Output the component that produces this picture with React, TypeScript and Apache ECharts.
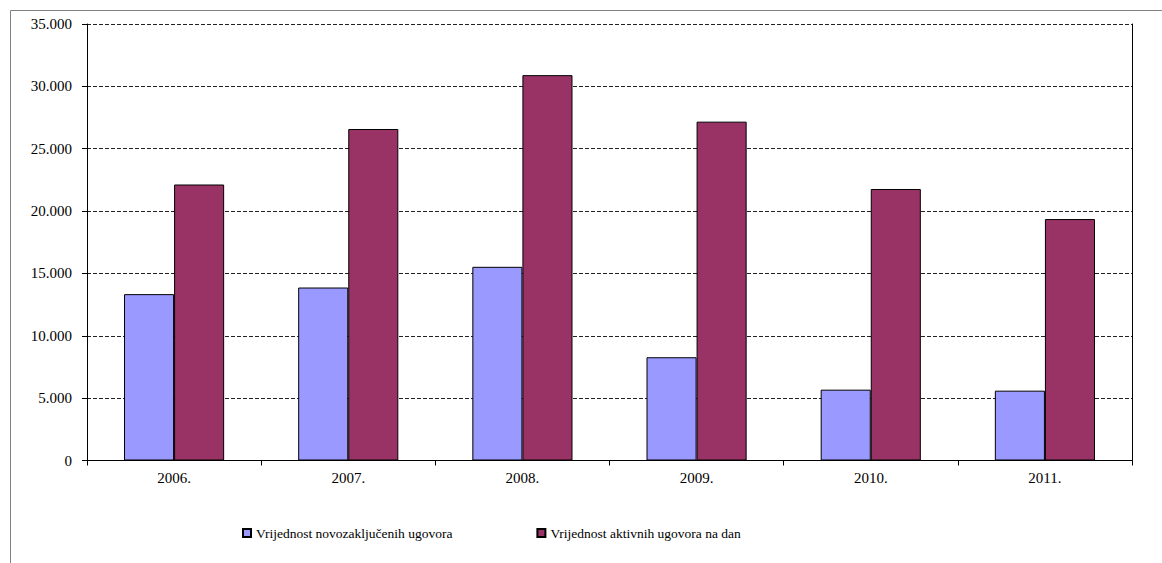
import React, { useEffect, useRef } from "react";
import * as echarts from "echarts";

const categories = ["2006.", "2007.", "2008.", "2009.", "2010.", "2011."];
const seriesNames = ["Vrijednost novozaključenih ugovora", "Vrijednost aktivnih ugovora na dan"];
const newContracts = [13340, 13870, 15530, 8280, 5680, 5600];
const activeContracts = [22130, 26580, 30900, 27170, 21770, 19360];

const FONT = "Liberation Serif, Times New Roman, serif";

function fmt(v: number): string {
  return String(v).replace(/\B(?=(\d{3})+(?!\d))/g, ".");
}

export default function App() {
  const ref = useRef<HTMLDivElement>(null);
  useEffect(() => {
    if (!ref.current) return;
    const chart = echarts.init(ref.current, null, { renderer: "svg" });
    chart.setOption({
      animation: false,
      backgroundColor: "#ffffff",
      grid: { left: 87, right: 30, top: 24, bottom: 102.5, containLabel: false },
      graphic: [
        {
          type: "rect",
          shape: { x: 10.5, y: 10.5, width: 1300, height: 700 },
          style: { fill: "none", stroke: "#808080", lineWidth: 1 },
          silent: true,
        },
      ],
      legend: {
        left: 237,
        top: 521,
        itemWidth: 8,
        itemHeight: 8,
        itemGap: 84,
        icon: "rect",
        textStyle: { fontFamily: FONT, fontSize: 13.5, color: "#000" },
        data: seriesNames,
      },
      xAxis: {
        type: "category",
        data: categories,
        axisLine: { show: true, lineStyle: { color: "#000", width: 1 } },
        axisTick: { show: true, alignWithLabel: false, length: 5, lineStyle: { color: "#000" } },
        axisLabel: { fontFamily: FONT, fontSize: 15, color: "#000", margin: 10 },
        splitLine: { show: false },
      },
      yAxis: [
        {
          type: "value",
          min: 0,
          max: 35000,
          interval: 5000,
          axisLine: { show: true, lineStyle: { color: "#000", width: 1 } },
          axisTick: { show: true, length: 5, lineStyle: { color: "#000" } },
          axisLabel: {
            fontFamily: FONT,
            fontSize: 15,
            color: "#000",
            margin: 15,
            formatter: (v: number) => fmt(v),
          },
          splitLine: { show: true, lineStyle: { color: "#222", type: [4, 2], width: 1 } },
        },
        {
          type: "value",
          min: 0,
          max: 35000,
          interval: 5000,
          position: "right",
          axisLine: { show: true, lineStyle: { color: "#000", width: 1 } },
          axisTick: { show: false },
          axisLabel: { show: false },
          splitLine: { show: false },
        },
      ],
      series: [
        {
          name: seriesNames[0],
          type: "bar",
          data: newContracts,
          barGap: "0%",
          barCategoryGap: "42.5%",
          itemStyle: { color: "#9999FF", borderColor: "#000", borderWidth: 1 },
        },
        {
          name: seriesNames[1],
          type: "bar",
          data: activeContracts,
          barGap: "0%",
          barCategoryGap: "42.5%",
          itemStyle: { color: "#993366", borderColor: "#000", borderWidth: 1 },
        },
      ],
    });
    return () => chart.dispose();
  }, []);
  return (
    <div
      ref={ref}
      style={{ position: "fixed", left: 0, top: 0, width: 1162, height: 563 }}
    />
  );
}
